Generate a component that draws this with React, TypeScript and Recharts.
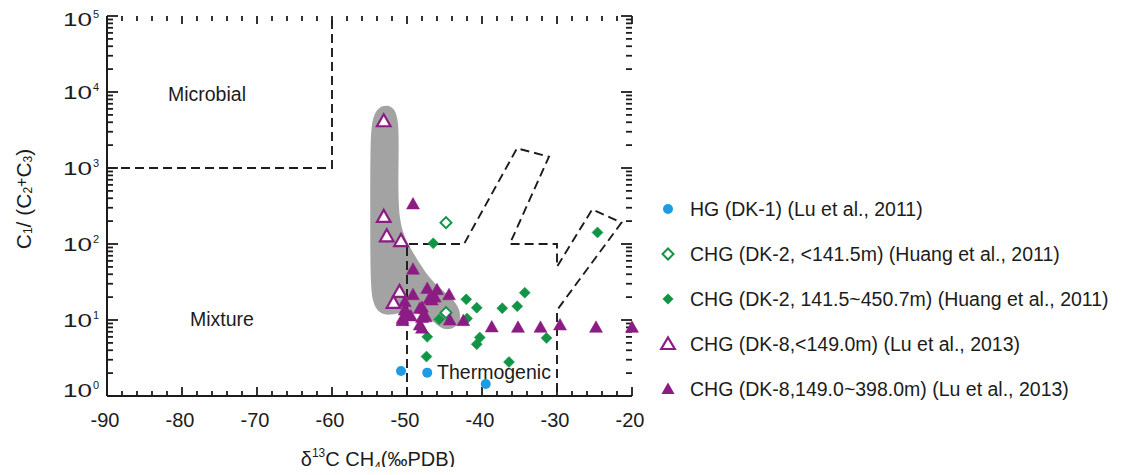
import React from 'react';
import { ScatterChart, Scatter, XAxis, YAxis, Legend, Label } from 'recharts';

// ---------- axis ticks ----------
const X_MAJOR = [-90, -80, -70, -60, -50, -40, -30, -20];
const X_MINOR_STEP = 2;
const Y_DECADES = [1, 10, 100, 1000, 10000, 100000];
const Y_EXPONENTS = ['0', '1', '2', '3', '4', '5'];
const Y_MINOR_MULTIPLIERS = [2, 3, 4, 5, 6, 7, 8, 9];

// ---------- series ----------
const seriesNames = [
  'HG (DK-1) (Lu et al., 2011)',
  'CHG (DK-2, <141.5m) (Huang et al., 2011)',
  'CHG (DK-2, 141.5~450.7m) (Huang et al., 2011)',
  'CHG (DK-8,<149.0m) (Lu et al., 2013)',
  'CHG (DK-8,149.0~398.0m) (Lu et al., 2013)',
];

const hgDK1 = [
  { x: -50.8, y: 2.13 },
  { x: -47.3, y: 2.03 },
  { x: -39.5, y: 1.44 },
];

const chgDK2Shallow = [
  { x: -44.8, y: 191 },
  { x: -44.8, y: 12.5 },
];

const chgDK2Deep = [
  { x: -46.5, y: 102 },
  { x: -42.1, y: 18.7 },
  { x: -40.7, y: 14.5 },
  { x: -37.3, y: 14.3 },
  { x: -35.3, y: 15.2 },
  { x: -34.3, y: 22.9 },
  { x: -45.7, y: 10.2 },
  { x: -42.0, y: 10.5 },
  { x: -47.3, y: 6.0 },
  { x: -47.4, y: 3.3 },
  { x: -40.3, y: 5.9 },
  { x: -40.7, y: 4.8 },
  { x: -36.4, y: 2.8 },
  { x: -31.4, y: 5.8 },
  { x: -24.6, y: 142 },
];

const chgDK8Shallow = [
  { x: -53.1, y: 4150 },
  { x: -53.1, y: 229 },
  { x: -52.7, y: 127 },
  { x: -50.8, y: 110 },
  { x: -51.0, y: 23.6 },
  { x: -51.8, y: 16.9 },
];

const chgDK8Deep = [
  { x: -49.2, y: 336 },
  { x: -49.2, y: 46.5 },
  { x: -47.3, y: 26 },
  { x: -46.0, y: 25 },
  { x: -44.4, y: 21.5 },
  { x: -49.2, y: 21.5 },
  { x: -47.0, y: 19.2 },
  { x: -46.3, y: 20 },
  { x: -46.7, y: 18.3 },
  { x: -50.3, y: 17.4 },
  { x: -48.0, y: 14.7 },
  { x: -48.3, y: 14.2 },
  { x: -50.3, y: 13.5 },
  { x: -50.0, y: 12.5 },
  { x: -49.5, y: 11.3 },
  { x: -50.6, y: 10.5 },
  { x: -50.6, y: 9.8 },
  { x: -47.5, y: 11.0 },
  { x: -48.0, y: 10.8 },
  { x: -48.3, y: 8.6 },
  { x: -48.0, y: 7.8 },
  { x: -44.3, y: 10.0 },
  { x: -42.5, y: 9.8 },
  { x: -38.7, y: 8.1 },
  { x: -35.2, y: 8.0 },
  { x: -32.2, y: 8.0 },
  { x: -29.6, y: 8.6 },
  { x: -24.8, y: 8.0 },
  { x: -20.0, y: 8.0 },
];

// gray envelope
const blobOutline = [
  { x: -52.67, y: 6745 },
  { x: -51.73, y: 6155 },
  { x: -51.2, y: 4545 },
  { x: -51.07, y: 2336 },
  { x: -51.2, y: 514 },
  { x: -51.0, y: 207 },
  { x: -50.4, y: 127 },
  { x: -49.4, y: 83.4 },
  { x: -48.2, y: 52.9 },
  { x: -46.8, y: 33.6 },
  { x: -45.2, y: 24.1 },
  { x: -43.6, y: 17.8 },
  { x: -42.8, y: 12.7 },
  { x: -43.0, y: 8.6 },
  { x: -44.4, y: 7.3 },
  { x: -45.6, y: 7.9 },
  { x: -46.67, y: 10.0 },
  { x: -48.27, y: 12.2 },
  { x: -50.27, y: 13.0 },
  { x: -52.27, y: 11.4 },
  { x: -53.73, y: 12.2 },
  { x: -54.6, y: 16.7 },
  { x: -54.9, y: 33.6 },
  { x: -54.9, y: 379 },
  { x: -54.9, y: 2336 },
  { x: -54.6, y: 4831 },
  { x: -53.73, y: 6350 },
];

// dashed field boundaries
const microbialBoundary = [
  { x: -90, y: 1000 },
  { x: -60, y: 1000 },
  { x: -60, y: 100000 },
];

const thermogenicBoundary = [
  { x: -50, y: 1 },
  { x: -50, y: 100 },
  { x: -42.4, y: 100 },
  { x: -35.33, y: 1815 },
  { x: -31.07, y: 1409 },
  { x: -36.3, y: 100 },
  { x: -30, y: 100 },
  { x: -30, y: 50.3 },
  { x: -25.3, y: 286 },
  { x: -21.4, y: 191 },
  { x: -30, y: 13.5 },
  { x: -30, y: 1 },
];

const regionLabels = [
  { x: -76.67, y: 9415, name: 'Microbial' },
  { x: -74.67, y: 10.3, name: 'Mixture' },
  { x: -38.4, y: 2.07, name: 'Thermogenic' },
];

// ---------- style ----------
const FONT = '"Liberation Sans", Arial, Helvetica, sans-serif';
const INK = '#1c1c1c';
const BLUE = '#1f9be3';
const GREEN = '#129447';
const PURPLE = '#8c1c84';
const GRAY = '#a3a3a3';

const X_MIN = X_MAJOR[0];
const X_MAX = X_MAJOR[X_MAJOR.length - 1];
const Y_MIN = Y_DECADES[0];
const Y_MAX = Y_DECADES[Y_DECADES.length - 1];

const xTicks: number[] = [];
for (let v = X_MIN; v <= X_MAX; v += X_MINOR_STEP) xTicks.push(v);
const yTicks: number[] = [...Y_DECADES];
for (let i = 0; i < Y_DECADES.length - 1; i++) {
  Y_MINOR_MULTIPLIERS.forEach((m) => yTicks.push(m * Y_DECADES[i]));
}

// inward frame tick marks on all four sides, placed through the chart scales
const frameTicks = [
  ...xTicks.map((v) => ({ x: v, y: Y_MIN, edge: 'bottom', major: X_MAJOR.includes(v) })),
  ...xTicks.map((v) => ({ x: v, y: Y_MAX, edge: 'top', major: X_MAJOR.includes(v) })),
  ...yTicks.map((v) => ({ x: X_MIN, y: v, edge: 'left', major: Y_DECADES.includes(v) })),
  ...yTicks.map((v) => ({ x: X_MAX, y: v, edge: 'right', major: Y_DECADES.includes(v) })),
];

// ---------- marker shapes ----------
const Circle = ({ cx, cy, r = 5 }: any) => <circle cx={cx} cy={cy} r={r} fill={BLUE} />;
const Diamond = ({ cx, cy, open, h = 5.5 }: any) => (
  <polygon
    points={`${cx},${cy - h} ${cx + h},${cy} ${cx},${cy + h} ${cx - h},${cy}`}
    fill={open ? '#fff' : GREEN}
    stroke={GREEN}
    strokeWidth={open ? 2 : 0.5}
  />
);
const Triangle = ({ cx, cy, open }: any) => {
  const w = open ? 6.8 : 6.5;
  const top = open ? 6.8 : 6.5;
  const bot = open ? 5.2 : 5;
  return (
    <polygon
      points={`${cx},${cy - top} ${cx + w},${cy + bot} ${cx - w},${cy + bot}`}
      fill={open ? '#fff' : PURPLE}
      stroke={PURPLE}
      strokeWidth={open ? 2.2 : 0.5}
      strokeLinejoin="miter"
    />
  );
};
const Nothing = () => null;

const TickMark = (p: any) => {
  const { cx, cy, payload } = p;
  const { edge, major } = payload;
  let d = '';
  if (edge === 'bottom') d = `M${cx},${cy} L${cx},${cy - (major ? 9 : 5)}`;
  else if (edge === 'top') d = `M${cx},${cy} L${cx},${cy + (major ? 8 : 5)}`;
  else if (edge === 'left') d = `M${cx},${cy} L${cx + (major ? 11 : 6)},${cy}`;
  else d = `M${cx},${cy} L${cx - (major ? 11 : 6)},${cy}`;
  return <path d={d} stroke={INK} strokeWidth={1.8} fill="none" />;
};

// ---------- tick labels ----------
const BottomTick = (props: any) => {
  const { x, y, payload } = props;
  const v = payload.value;
  if (!X_MAJOR.includes(v)) return <g />;
  return (
    <text x={x - 2} y={y + 31} textAnchor="middle" fontSize={20} fill={INK} fontFamily={FONT}>
      {v}
    </text>
  );
};
const LeftTick = (props: any) => {
  const { x, y, payload } = props;
  const idx = Y_DECADES.indexOf(payload.value);
  if (idx < 0) return <g />;
  const adj = idx === 0 ? -6 : idx === Y_DECADES.length - 1 ? 3.5 : 0;
  return (
    <g fill={INK} fontFamily={FONT}>
      <text x={x - 44} y={y + adj + 6.8} fontSize={19} textLength={29} lengthAdjust="spacingAndGlyphs">
        10
      </text>
      <text x={x - 14} y={y + adj - 1.2} fontSize={11}>
        {Y_EXPONENTS[idx]}
      </text>
    </g>
  );
};

// ---------- titles ----------
const XTitle = (props: any) => {
  const vb = props.viewBox || { x: 0, y: 0, width: 0 };
  const cx = vb.x + vb.width / 2 + 8.5;
  const by = vb.y + 70;
  return (
    <text x={cx} y={by} textAnchor="middle" fontSize={20} fill={INK} fontFamily={FONT}>
      δ
      <tspan fontSize={12} dy={-9}>13</tspan>
      <tspan dy={9}>C CH</tspan>
      <tspan fontSize={12} dy={5}>4</tspan>
      <tspan dy={-5}>(‰PDB)</tspan>
    </text>
  );
};
const YTitle = (props: any) => {
  const vb = props.viewBox || { x: 0, y: 0, width: 0, height: 0 };
  const cx = vb.x - 4;
  const cy = vb.y + vb.height / 2 - 7;
  return (
    <text
      x={cx}
      y={cy}
      transform={`rotate(-90 ${cx} ${cy})`}
      textAnchor="middle"
      dominantBaseline="central"
      fontSize={21}
      fill={INK}
      fontFamily={FONT}
    >
      C<tspan fontSize={12} dy={5}>1</tspan>
      <tspan dy={-5}>/ (C</tspan>
      <tspan fontSize={12} dy={5}>2</tspan>
      <tspan dy={-7} fontSize={16}>+</tspan>
      <tspan dy={2}>C</tspan>
      <tspan fontSize={12} dy={5}>3</tspan>
      <tspan dy={-5}>)</tspan>
    </text>
  );
};

// ---------- legend ----------
const legendMarkers = [
  <circle cx={10} cy={10} r={5} fill={BLUE} />,
  <polygon points="10,4.5 15.5,10 10,15.5 4.5,10" fill="#fff" stroke={GREEN} strokeWidth={2} />,
  <polygon points="10,4.5 15.5,10 10,15.5 4.5,10" fill={GREEN} />,
  <polygon points="10,3.5 16.8,15 3.2,15" fill="#fff" stroke={PURPLE} strokeWidth={2.2} />,
  <polygon points="10,3.5 16.5,15 3.5,15" fill={PURPLE} />,
];
const LegendContent = () => (
  <div style={{ fontFamily: FONT, fontSize: 19.5, color: INK }}>
    {seriesNames.map((name, i) => (
      <div key={name} style={{ height: 45, display: 'flex', alignItems: 'center', whiteSpace: 'nowrap' }}>
        <svg width={20} height={20} style={{ display: 'block', flex: 'none' }}>
          {legendMarkers[i]}
        </svg>
        <span style={{ marginLeft: 12 }}>{name}</span>
      </div>
    ))}
  </div>
);

const RegionText = (p: any) => (
  <text x={p.cx} y={p.cy + 7} textAnchor="middle" fontSize={19.5} fill={INK} fontFamily={FONT}>
    {p.payload.name}
  </text>
);

const AXIS_LINE = { stroke: INK, strokeWidth: 2 };

export default function App() {
  return (
    <div
      style={{
        width: 1120,
        height: 467,
        marginRight: -8,
        marginBottom: -8,
        overflow: 'hidden',
        fontFamily: FONT,
        background: '#fff',
      }}
    >
      <ScatterChart width={1120} height={467} margin={{ top: 8, right: 496, bottom: 19, left: 19 }}>
        <XAxis
          xAxisId="bottom"
          type="number"
          dataKey="x"
          domain={[X_MIN, X_MAX]}
          ticks={xTicks}
          interval={0}
          tickSize={0}
          tickMargin={0}
          tickLine={false}
          tick={BottomTick}
          axisLine={AXIS_LINE}
          height={60}
        >
          <Label content={XTitle} />
        </XAxis>
        <XAxis
          xAxisId="top"
          orientation="top"
          type="number"
          dataKey="x"
          domain={[X_MIN, X_MAX]}
          ticks={xTicks}
          tickLine={false}
          tick={false}
          axisLine={AXIS_LINE}
          height={0}
        />
        <YAxis
          yAxisId="left"
          type="number"
          dataKey="y"
          scale="log"
          domain={[Y_MIN, Y_MAX]}
          ticks={yTicks}
          interval={0}
          tickSize={0}
          tickMargin={0}
          tickLine={false}
          tick={LeftTick}
          axisLine={AXIS_LINE}
          width={80}
        >
          <Label content={YTitle} />
        </YAxis>
        <YAxis
          yAxisId="right"
          orientation="right"
          type="number"
          dataKey="y"
          scale="log"
          domain={[Y_MIN, Y_MAX]}
          ticks={yTicks}
          tickLine={false}
          tick={false}
          axisLine={AXIS_LINE}
          width={0}
        />

        <Scatter
          name="envelope"
          data={blobOutline}
          xAxisId="bottom"
          yAxisId="left"
          fill={GRAY}
          line={{ stroke: 'none', fill: GRAY }}
          lineJointType="basisClosed"
          shape={Nothing}
          isAnimationActive={false}
          legendType="none"
        />
        <Scatter
          name="frame-ticks"
          data={frameTicks}
          xAxisId="bottom"
          yAxisId="left"
          fill={INK}
          shape={TickMark}
          isAnimationActive={false}
          legendType="none"
        />
        <Scatter
          name="microbial-boundary"
          data={microbialBoundary}
          xAxisId="bottom"
          yAxisId="left"
          fill={INK}
          line={{ stroke: INK, strokeWidth: 1.9, strokeDasharray: '9 5' }}
          shape={Nothing}
          isAnimationActive={false}
          legendType="none"
        />
        <Scatter
          name="thermogenic-boundary"
          data={thermogenicBoundary}
          xAxisId="bottom"
          yAxisId="left"
          fill={INK}
          line={{ stroke: INK, strokeWidth: 1.9, strokeDasharray: '9 5' }}
          shape={Nothing}
          isAnimationActive={false}
          legendType="none"
        />

        <Scatter
          name={seriesNames[2]}
          data={chgDK2Deep}
          xAxisId="bottom"
          yAxisId="left"
          fill={GREEN}
          shape={(p: any) => <Diamond {...p} />}
          isAnimationActive={false}
        />
        <Scatter
          name={seriesNames[1]}
          data={chgDK2Shallow}
          xAxisId="bottom"
          yAxisId="left"
          fill={GREEN}
          shape={(p: any) => <Diamond {...p} open />}
          isAnimationActive={false}
        />
        <Scatter
          name={seriesNames[4]}
          data={chgDK8Deep}
          xAxisId="bottom"
          yAxisId="left"
          fill={PURPLE}
          shape={(p: any) => <Triangle {...p} />}
          isAnimationActive={false}
        />
        <Scatter
          name={seriesNames[3]}
          data={chgDK8Shallow}
          xAxisId="bottom"
          yAxisId="left"
          fill={PURPLE}
          shape={(p: any) => <Triangle {...p} open />}
          isAnimationActive={false}
        />
        <Scatter
          name={seriesNames[0]}
          data={hgDK1}
          xAxisId="bottom"
          yAxisId="left"
          fill={BLUE}
          shape={(p: any) => <Circle {...p} />}
          isAnimationActive={false}
        />
        <Scatter
          name="region-labels"
          data={regionLabels}
          xAxisId="top"
          yAxisId="right"
          fill={INK}
          shape={RegionText}
          isAnimationActive={false}
          legendType="none"
        />

        <Legend
          layout="vertical"
          align="center"
          verticalAlign="middle"
          content={LegendContent}
          wrapperStyle={{ left: 650, top: 178.5, width: 468, height: 225, right: 'auto', bottom: 'auto' }}
        />
      </ScatterChart>
    </div>
  );
}
